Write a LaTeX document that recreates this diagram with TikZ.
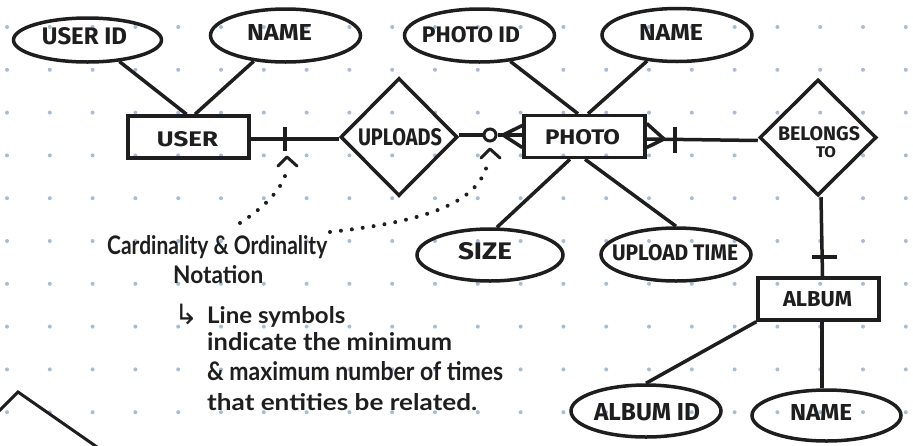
\documentclass[tikz,border=0pt]{standalone}
\usepackage{fontspec}
\setmainfont{Fira Sans}
\newfontfamily\handfont{Lato}
\newfontfamily\symfont{DejaVu Sans}
\usepackage{graphicx}
\usetikzlibrary{shapes.geometric,calc}
\definecolor{ink}{HTML}{1E1E1E}
\definecolor{dotc}{HTML}{A9BBD9}
\newcommand{\lab}[3]{\resizebox{#1pt}{#2pt}{\bfseries #3}}
\newcommand{\hw}[3]{\resizebox{#1pt}{#2pt}{\handfont\bfseries #3}}
\tikzset{
  attr/.style={draw=ink, line width=3.5pt, ellipse, inner sep=0pt},
  ent/.style={draw=ink, line width=3.5pt, rectangle, inner sep=0pt, minimum width=121pt, minimum height=42pt},
  rel/.style={draw=ink, line width=3.5pt, diamond, inner sep=0pt},
  conn/.style={draw=ink, line width=3.5pt},
  lbl/.style={inner sep=0pt, text=ink},
  note/.style={inner sep=0pt, text=ink, anchor=base west},
  dotline/.style={draw=ink, line width=4pt, line cap=round, dash pattern=on 0pt off 11pt},
  chev/.style={draw=ink, line width=3pt, line cap=round, line join=round}
}
\begin{document}
\begin{tikzpicture}[x=1pt,y=-1pt]
\useasboundingbox (0,0) rectangle (913,445);
\fill[white] (0,0) rectangle (913,445);
% dot grid
\foreach \i in {0,...,21}{
  \foreach \j in {0,...,9}{
    \fill[dotc] ({7+42.8*\i},{27+42.8*\j}) circle (2pt);
  }
}
% entities
\node[ent] (user) at (188.5,137) {};
\node[ent] (photo) at (584.5,136.5) {};
\node[ent] (album) at (818.5,299) {};
% relationships
\node[rel, minimum width=117pt, minimum height=118pt] (uploads) at (399,137) {};
\node[rel, minimum width=117pt, minimum height=116pt] (belongs) at (818,137.5) {};
% attributes
\node[attr, minimum width=148pt, minimum height=44pt] (userid) at (87.5,40) {};
\node[attr, minimum width=150pt, minimum height=53pt] (username) at (285.5,35.5) {};
\node[attr, minimum width=150pt, minimum height=53pt] (photoid) at (479.5,35.5) {};
\node[attr, minimum width=150pt, minimum height=53pt] (photoname) at (677,35) {};
\node[attr, minimum width=146pt, minimum height=52pt] (size) at (490,255) {};
\node[attr, minimum width=150pt, minimum height=53pt] (uploadtime) at (676,254.5) {};
\node[attr, minimum width=150pt, minimum height=52pt] (albumid) at (646,411) {};
\node[attr, minimum width=149pt, minimum height=51pt] (albumname) at (826.5,415.5) {};
% labels
\node[lbl] (userid-t) at (84.5,36.5) {\lab{85}{17}{USER ID}};
\node[lbl] (username-t) at (279.5,32) {\lab{65}{16}{NAME}};
\node[lbl] (user-t) at (187.5,139) {\lab{61}{15}{USER}};
\node[lbl] (uploads-t) at (400,136.7) {\lab{84}{17}{UPLOADS}};
\node[lbl] (photoid-t) at (471,34.5) {\lab{98}{16}{PHOTO ID}};
\node[lbl] (photoname-t) at (671,32.5) {\lab{64}{16}{NAME}};
\node[lbl] (photo-t) at (582.5,137.5) {\lab{75}{15}{PHOTO}};
\node[lbl] (belongs-t1) at (819,133.5) {\lab{82}{14}{BELONGS}};
\node[lbl] (belongs-t2) at (826,152.5) {\lab{20}{11}{TO}};
\node[lbl] (size-t) at (485,251) {\lab{54}{17}{SIZE}};
\node[lbl] (uploadtime-t) at (675,253) {\lab{126}{16}{UPLOAD TIME}};
\node[lbl] (album-t) at (817.5,298.8) {\lab{69}{15}{ALBUM}};
\node[lbl] (albumid-t) at (647,412) {\lab{106}{17}{ALBUM ID}};
\node[lbl] (albumname-t) at (821,412.5) {\lab{62}{16}{NAME}};
% attribute connectors
\draw[conn] (userid.-34) -- ([xshift=-2pt]user.north);
\draw[conn] (username.-141) -- ([xshift=6.5pt]user.north);
\draw[conn] (photoid.-40) -- ([xshift=-6.5pt]photo.north);
\draw[conn] (photoname.-139) -- ([xshift=3.5pt]photo.north);
\draw[conn] ([xshift=-14.5pt]photo.south) -- (size.76);
\draw[conn] ([xshift=0.5pt]photo.south) -- (uploadtime.north);
\draw[conn] (album.south west) -- (albumid.north);
\draw[conn] ([xshift=3.5pt]album.south) -- ([xshift=-4.5pt]albumname.north);
% relationship connectors
\draw[conn] ([yshift=-2pt]user.east) -- ([yshift=-2pt]uploads.west);
\coordinate (tick1) at ($([yshift=-2pt]user.east)!0.39!([yshift=-2pt]uploads.west)$);
\draw[conn] ([yshift=-12pt]tick1) -- ([yshift=12pt]tick1);
\node[draw=ink, line width=3pt, circle, inner sep=0pt, minimum size=12pt] (circ) at (490,135) {};
\draw[conn] ([yshift=2pt]uploads.east) -- (circ.west);
\draw[conn] (circ.east) -- (circ.east -| photo.west);
\coordinate (cf1) at (503,135);
\draw[conn, line join=round] ([yshift=11pt]photo.west) -- (cf1) -- ([yshift=-11pt]photo.west);
\draw[conn] ([yshift=-2.5pt]photo.east) -- ([yshift=-3pt]belongs.west);
\coordinate (cf2) at (664,139);
\draw[conn, line join=round] ([yshift=-11pt]photo.east) -- (cf2) -- ([yshift=13pt]photo.east);
\coordinate (tick2) at (675,139.5);
\draw[conn] ([yshift=-13pt]tick2) -- ([yshift=13pt]tick2);
\draw[conn] ([xshift=3pt]belongs.south) -- ([xshift=4pt]album.north);
\coordinate (tick3) at (824.5,257);
\draw[conn] ([xshift=-12.5pt]tick3) -- ([xshift=12.5pt]tick3);
% partial shape bottom-left
\draw[conn, line width=3pt] (-2,412) -- (18,392) -- (97,447);
% annotation text
\node[note] (n1) at (107,254) {\hw{220}{19}{Cardinality \& Ordinality}};
\node[note] (n2) at (173,283) {\hw{90}{18}{Notation}};
\node[lbl] (n3a) at (186,314) {\symfont\fontsize{28}{28}\selectfont ↳};
\node[note] (n3) at (207,323) {\hw{138}{17}{Line symbols}};
\node[note] (n4) at (207,350) {\hw{245}{18}{indicate the minimum}};
\node[note] (n5) at (207,380) {\hw{296}{19}{\& maximum number of times}};
\node[note] (n6) at (207,410) {\hw{270}{17}{that entities be related.}};
% dotted pointers
\coordinate (d1s) at (240,223);
\coordinate (d1e) at (287,168);
\draw[dotline] (d1s) .. controls (268,205) and (285,185) .. (d1e);
\draw[chev] (278,166) -- (287,157) -- (297,166);
\coordinate (d2s) at (330,232);
\coordinate (d2e) at (488,161);
\draw[dotline] (d2s) .. controls (420,222) and (480,205) .. (d2e);
\draw[chev] (481,158) -- (490,149) -- (500,158);
\end{tikzpicture}
\end{document}
